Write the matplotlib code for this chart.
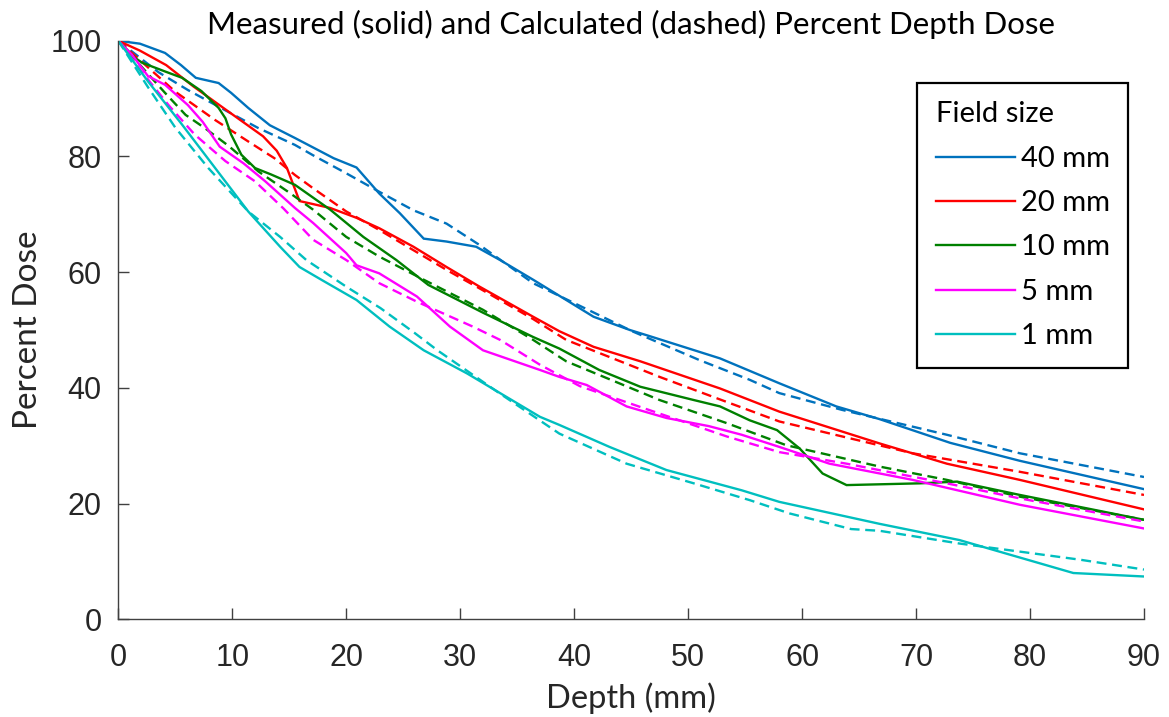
import matplotlib
matplotlib.use("Agg")
import matplotlib.pyplot as plt
from matplotlib.lines import Line2D

# ---- data: depth (mm) and percent dose, measured (solid) and calculated (dashed)
field_sizes = ["40 mm", "20 mm", "10 mm", "5 mm", "1 mm"]
x_ticks = [0, 10, 20, 30, 40, 50, 60, 70, 80, 90]
y_ticks = [0, 20, 40, 60, 80, 100]

meas_depth_40 = [0, 1.9, 4.1, 5.5, 6.8, 8.8, 9.9, 11.4, 13.3, 15.5, 18.9, 20.9, 22.9, 24.7,
                 26.8, 28.8, 31.4, 33.5, 36.4, 39.3, 41.7, 44.9, 46.7, 52.8, 58.0, 63.0,
                 66.8, 73.0, 79.1, 90]
meas_dose_40 = [100, 99.5, 97.9, 95.8, 93.6, 92.7, 91.0, 88.4, 85.4, 83.2, 79.7, 78.1, 73.6, 70.2,
                65.8, 65.3, 64.4, 62.1, 58.7, 55.2, 52.3, 50.0, 48.9, 45.1, 40.8, 36.8,
                34.6, 30.5, 27.4, 22.5]
calc_depth_40 = [0, 3.5, 6.1, 9.0, 12.3, 15.5, 17.1, 20.0, 22.9, 25.9, 28.8, 31.7, 36.4,
                 45.2, 51.0, 55.4, 58.0, 63.5, 72.7, 79.1, 90]
calc_dose_40 = [100, 94.6, 91.5, 88.4, 84.9, 82.0, 80.2, 77.1, 73.9, 70.7, 68.4, 64.7, 58.1,
                49.7, 44.8, 41.4, 39.1, 36.2, 31.9, 28.7, 24.6]

meas_depth_20 = [0, 1.9, 4.2, 6.6, 9.5, 12.7, 13.9, 14.8, 15.9, 18.6, 20.9, 22.9, 25.9, 28.8,
                 31.7, 36.4, 38.7, 41.7, 45.8, 52.8, 58.0, 66.8, 72.7, 79.1, 90]
meas_dose_20 = [100, 98.3, 95.8, 92.1, 88.0, 83.5, 81.0, 78.0, 72.3, 71.1, 69.4, 67.6, 64.4, 60.9,
                57.5, 52.3, 49.8, 47.1, 44.6, 39.9, 35.9, 30.4, 26.9, 24.1, 19.0]
calc_depth_20 = [0, 2.5, 5.0, 8.5, 11.4, 13.7, 15.5, 17.1, 20.0, 22.9, 25.9, 28.8, 31.7, 36.4,
                 39.3, 47.5, 52.8, 58.0, 69.7, 79.1, 90]
calc_dose_20 = [100, 95.6, 91.2, 86.3, 82.6, 79.7, 76.8, 74.5, 70.5, 67.3, 63.8, 60.4, 57.2, 51.9,
                48.3, 41.9, 38.0, 34.2, 28.7, 25.5, 21.5]

meas_depth_10 = [0, 1.5, 2.1, 4.1, 5.6, 7.3, 8.8, 9.4, 9.9, 10.8, 12.0, 13.4, 15.5, 18.6, 21.5,
                 24.4, 27.2, 32.0, 36.4, 38.7, 42.2, 45.8, 50.5, 52.8, 55.4, 57.8, 59.8, 61.8,
                 63.9, 70.3, 73.6, 79.1, 90]
meas_dose_10 = [100, 97.0, 96.2, 94.7, 93.6, 91.3, 88.4, 86.6, 83.8, 80.3, 78.0, 76.9, 75.1, 70.8,
                66.1, 62.1, 57.8, 53.0, 48.8, 46.8, 43.1, 40.2, 37.9, 36.8, 34.4, 32.7, 29.5,
                25.2, 23.2, 23.5, 23.8, 21.5, 17.2]
calc_depth_10 = [0, 4.1, 5.9, 7.6, 9.7, 12.3, 14.9, 17.1, 20.0, 22.9, 26.8, 32.0, 36.4, 39.3,
                 47.5, 53.4, 58.6, 66.8, 72.7, 79.1, 90]
calc_dose_10 = [100, 91.0, 87.2, 84.9, 81.8, 77.4, 73.9, 70.8, 66.1, 62.7, 58.7, 53.5, 48.3, 44.6,
                37.9, 33.9, 30.1, 26.4, 24.1, 21.2, 17.2]

meas_depth_5 = [0, 1.2, 2.6, 4.1, 6.1, 7.4, 8.9, 11.0, 12.9, 15.5, 17.1, 20.0, 20.9, 22.9, 26.2,
                29.1, 32.0, 37.0, 38.7, 41.1, 44.6, 48.1, 51.8, 54.7, 58.0, 62.4, 69.7, 79.1, 90]
meas_dose_5 = [100, 97.6, 93.9, 92.4, 88.9, 86.0, 81.7, 78.8, 75.7, 71.1, 68.5, 63.3, 61.2, 59.8,
               55.8, 50.6, 46.5, 43.1, 41.9, 40.5, 36.8, 34.8, 33.4, 31.9, 29.8, 26.9, 24.1,
               19.8, 15.7]
calc_depth_5 = [0, 1.8, 4.4, 6.7, 9.4, 12.0, 14.5, 17.1, 20.0, 22.9, 26.2, 31.1, 33.5, 37.0,
                40.5, 46.1, 53.4, 58.0, 63.9, 72.7, 79.1, 90]
calc_dose_5 = [100, 95.3, 88.9, 83.8, 79.2, 75.7, 71.0, 65.6, 62.1, 58.1, 54.9, 50.6, 48.3, 44.0,
               40.3, 36.5, 31.6, 28.9, 26.9, 23.5, 20.9, 16.9]

meas_depth_1 = [0, 2.6, 5.6, 8.5, 11.4, 14.2, 15.9, 17.9, 20.9, 23.8, 26.8, 30.6, 33.5, 37.0,
                38.7, 43.1, 48.1, 54.7, 58.0, 66.8, 73.8, 83.8, 90]
meas_dose_1 = [100, 93.0, 85.5, 78.0, 70.5, 64.4, 60.9, 58.6, 55.2, 50.6, 46.5, 42.5, 39.1, 35.0,
               33.6, 29.8, 25.8, 22.3, 20.3, 16.5, 13.7, 8.0, 7.4]
calc_depth_1 = [0, 2.6, 5.0, 7.9, 11.4, 14.2, 16.5, 20.0, 23.0, 26.0, 28.0, 33.5, 38.7, 44.6,
                50.5, 55.4, 58.9, 64.3, 66.8, 73.8, 79.1, 84.4, 90]
calc_dose_1 = [100, 92.0, 85.0, 78.0, 70.5, 66.1, 62.1, 57.5, 53.8, 49.5, 46.5, 39.0, 32.1, 26.9,
               23.5, 20.6, 18.3, 15.6, 15.3, 13.1, 11.7, 10.3, 8.6]

measured = [(meas_depth_40, meas_dose_40), (meas_depth_20, meas_dose_20),
            (meas_depth_10, meas_dose_10), (meas_depth_5, meas_dose_5),
            (meas_depth_1, meas_dose_1)]
calculated = [(calc_depth_40, calc_dose_40), (calc_depth_20, calc_dose_20),
              (calc_depth_10, calc_dose_10), (calc_depth_5, calc_dose_5),
              (calc_depth_1, calc_dose_1)]

# ---- styling
line_colors = ["#0072BD", "#FF0000", "#008000", "#FF00FF", "#00BFBF"]
text_font = ["Lato", "DejaVu Sans"]
tick_font = ["Liberation Sans", "DejaVu Sans"]
axis_grey = "#262626"

fig = plt.figure(figsize=(11.69, 7.17), dpi=100)
ax = fig.add_axes([118.3 / 1169, 1 - 619.3 / 717, (1144 - 118.3) / 1169, (619.3 - 40.8) / 717])

lw = 1.7
for (mx, my), (cx, cy), col in zip(measured, calculated, line_colors):
    ax.plot(mx, my, color=col, lw=lw, solid_joinstyle="miter")
    ax.plot(cx, cy, color=col, lw=lw, linestyle=(0, (4.2, 2.4)))

ax.set_xlim(0, 90)
ax.set_ylim(0, 100)
ax.set_xticks(x_ticks)
ax.set_yticks(y_ticks)
ax.set_xticklabels([str(v) for v in x_ticks], family=tick_font, fontsize=22, color=axis_grey)
ax.set_yticklabels([str(v) for v in y_ticks], family=tick_font, fontsize=22, color=axis_grey)
ax.tick_params(axis="both", direction="in", length=8, width=1.0, color="#404040")
ax.tick_params(axis="x", pad=17)
ax.tick_params(axis="y", pad=12)

for side in ("top", "right"):
    ax.spines[side].set_visible(False)
for side in ("left", "bottom"):
    ax.spines[side].set_color("#404040")
    ax.spines[side].set_linewidth(1.0)

ax.set_xlabel("Depth (mm)", family=text_font, fontsize=23.5, color=axis_grey, labelpad=7)
ax.set_ylabel("Percent Dose", family=text_font, fontsize=24, color=axis_grey, labelpad=5)
ax.set_title("Measured (solid) and Calculated (dashed) Percent Depth Dose",
             family=text_font, fontsize=22.5, color="black", pad=5)

handles = [Line2D([], [], color=c, lw=lw) for c in line_colors]
leg = ax.legend(handles, field_sizes, title="Field size", loc="upper left",
                bbox_to_anchor=((917.3 - 118.3) / 1025.7, (619.3 - 82.7) / 578.5),
                prop={"family": text_font, "size": 21},
                title_fontproperties={"family": text_font, "size": 21},
                alignment="left", frameon=True, fancybox=False, framealpha=1,
                edgecolor="black", borderpad=0.64, labelspacing=0.63,
                handlelength=2.7, handletextpad=0.2, borderaxespad=0)
leg.get_frame().set_linewidth(1.6)

fig.savefig("out.png", dpi=100, facecolor="white")
